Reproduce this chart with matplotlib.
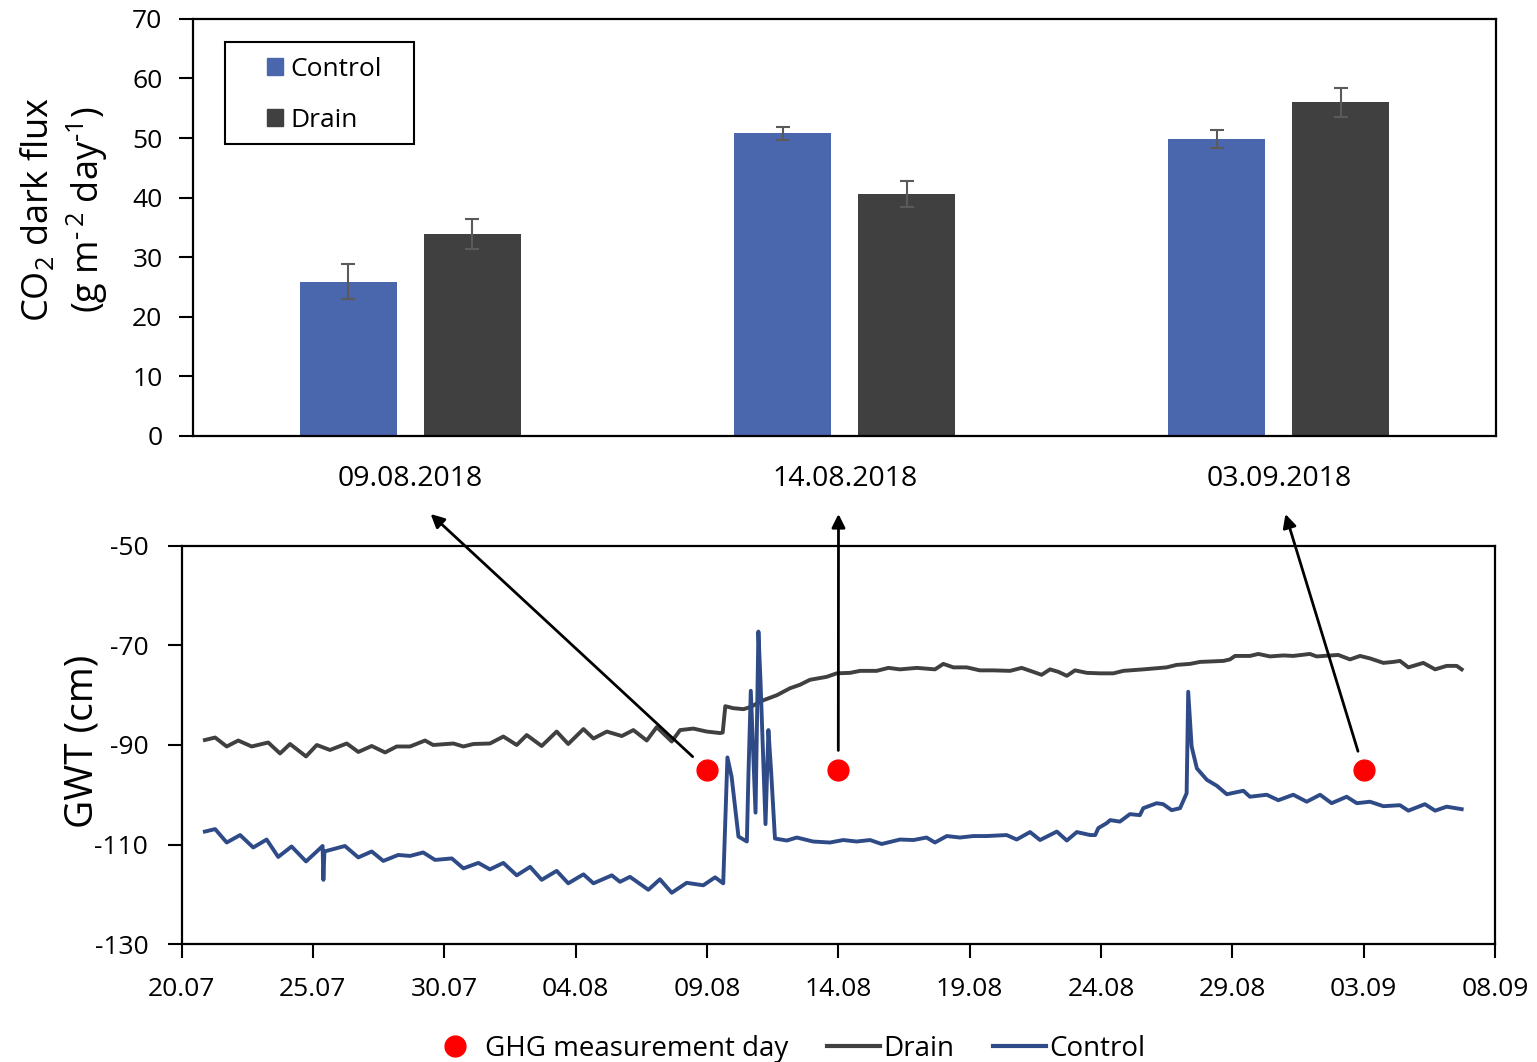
import matplotlib
matplotlib.use('Agg')
import matplotlib.pyplot as plt
import matplotlib.dates as mdates
from matplotlib.lines import Line2D
from matplotlib.patches import Patch, Rectangle, ConnectionPatch
import numpy as np

plt.rcParams['font.family'] = ['Open Sans', 'DejaVu Sans']
plt.rcParams['mathtext.fontset'] = 'custom'
plt.rcParams['mathtext.rm'] = 'Open Sans'
plt.rcParams['axes.unicode_minus'] = False

# ---------------- data ----------------
categories = ['09.08.2018', '14.08.2018', '03.09.2018']
flux_control = [25.9, 50.8, 49.9]
flux_control_err = [2.95, 1.1, 1.5]
flux_drain = [33.9, 40.6, 56.0]
flux_drain_err = [2.5, 2.2, 2.45]

ghg_dates = ['2018-08-09', '2018-08-14', '2018-09-03']
ghg_gwt = [-95, -95, -95]

start_date = '2018-07-20'
# days after 20.07.2018 and groundwater table (cm)
drain_day = [0.89, 1.28, 1.72, 2.16, 2.67, 3.30, 3.75, 4.13, 4.74, 5.15, 5.65, 6.29, 6.73,
             7.24, 7.75, 8.19, 8.70, 9.27, 9.58, 10.35, 10.73, 11.11, 11.74, 12.25, 12.76,
             13.14, 13.71, 14.28, 14.72, 15.30, 15.68, 16.19, 16.76, 17.20, 17.71, 18.09,
             18.66, 18.98, 19.48, 19.99, 20.50, 20.60, 20.70, 21.00, 21.39, 21.64, 22.15,
             22.66, 23.16, 23.54, 23.92, 24.56, 24.94, 25.45, 25.83, 26.46, 26.91, 27.35,
             27.99, 28.68, 29.00, 29.38, 29.89, 30.39, 30.90, 31.54, 31.98, 32.42, 32.74,
             33.06, 33.38, 33.70, 34.01, 34.46, 34.96, 35.47, 35.85, 36.61, 37.50, 37.88,
             38.39, 38.77, 39.66, 39.91, 40.10, 40.67, 40.99, 41.43, 41.94, 42.32, 42.95,
             43.21, 44.03, 44.48, 44.86, 45.24, 45.75, 46.13, 46.38, 46.70, 47.27, 47.72,
             48.16, 48.54, 48.73]
drain_gwt = [-89.0, -88.5, -90.3, -89.1, -90.3, -89.5, -91.7, -89.8, -92.3, -90.0, -91.0, -89.7, -91.4,
             -90.2, -91.5, -90.3, -90.3, -89.1, -90.0, -89.7, -90.3, -89.8, -89.7, -88.3, -90.0,
             -88.0, -90.2, -87.3, -89.8, -86.8, -88.7, -87.3, -88.2, -87.0, -89.1, -86.4,
             -89.3, -87.0, -86.7, -87.3, -87.6, -87.5, -82.2, -82.6, -82.8, -82.4, -81.0,
             -80.0, -78.6, -77.9, -76.9, -76.3, -75.6, -75.5, -75.1, -75.1, -74.5, -74.8,
             -74.5, -74.8, -73.7, -74.4, -74.4, -75.0, -75.0, -75.1, -74.5, -75.3, -75.9,
             -74.8, -75.3, -76.1, -75.0, -75.5, -75.6, -75.6, -75.1, -74.8, -74.4, -73.9,
             -73.7, -73.3, -73.1, -72.8, -72.1, -72.1, -71.7, -72.2, -72.0, -72.1, -71.7,
             -72.2, -71.9, -72.8, -72.1, -72.6, -73.5, -73.3, -73.1, -74.4, -73.5, -74.8,
             -74.1, -74.1, -74.8]

control_day = [0.89, 1.28, 1.72, 2.23, 2.73, 3.24, 3.68, 4.19, 4.74, 5.21, 5.37, 5.40, 5.44,
               6.22, 6.73, 7.24, 7.68, 8.25, 8.70, 9.20, 9.65, 10.29, 10.73, 11.30, 11.74,
               12.25, 12.76, 13.27, 13.71, 14.28, 14.72, 15.30, 15.68, 16.38, 16.69, 17.07,
               17.77, 18.21, 18.66, 19.23, 19.86, 20.31, 20.62, 20.78, 20.94, 21.20, 21.52,
               21.58, 21.67, 21.85, 21.96, 22.04, 22.23, 22.34, 22.44, 22.59, 23.04, 23.42,
               24.04, 24.68, 25.19, 25.70, 26.21, 26.65, 27.35, 27.86, 28.36, 28.68, 29.13,
               29.63, 30.14, 30.65, 31.41, 31.79, 32.30, 32.68, 33.32, 33.70, 34.08, 34.59,
               34.78, 34.90, 35.22, 35.35, 35.72, 36.10, 36.48, 36.61, 37.12, 37.37, 37.69,
               38.01, 38.26, 38.32, 38.45, 38.65, 39.03, 39.41, 39.79, 40.42, 40.67, 41.31,
               41.75, 42.32, 42.83, 43.34, 43.78, 44.35, 44.74, 45.24, 45.75, 46.38, 46.70,
               47.33, 47.72, 48.16, 48.73]
control_gwt = [-107.4, -106.9, -109.6, -108.1, -110.6, -109.0, -112.5, -110.4, -113.4, -111.1, -110.3, -117.1, -111.4,
               -110.3, -112.6, -111.4, -113.3, -112.1, -112.3, -111.6, -113.1, -112.8, -114.8, -113.7, -115.0,
               -113.7, -116.2, -114.5, -117.1, -115.3, -117.8, -116.0, -117.8, -116.2, -117.5, -116.5,
               -119.1, -117.0, -119.7, -117.7, -118.2, -116.6, -117.8, -92.5, -96.4, -108.4, -109.4,
               -96.0, -79.1, -103.6, -67.2, -77.3, -105.9, -87.0, -95.0, -108.8, -109.2, -108.6,
               -109.4, -109.6, -109.1, -109.4, -109.1, -109.9, -109.0, -109.1, -108.6, -109.6, -108.3,
               -108.6, -108.3, -108.3, -108.1, -109.0, -107.5, -109.1, -107.4, -109.2, -107.5, -108.1,
               -108.1, -106.7, -105.7, -105.1, -105.4, -103.9, -104.1, -102.7, -101.7, -101.9, -103.1,
               -102.7, -99.7, -79.3, -90.3, -94.7, -97.0, -98.2, -99.9, -99.2, -100.4, -100.0,
               -101.1, -100.0, -101.4, -100.0, -101.7, -100.4, -101.7, -101.4, -102.3, -102.1, -103.2,
               -101.9, -103.2, -102.4, -102.9]

# ---------------- styling ----------------
c_control_bar = '#4A67AD'
c_drain_bar = '#404040'
c_control_line = '#2F4B87'
c_drain_line = '#404040'
tick_fs = 19
cat_fs = 20.5
legend_fs = 20
label_fs_top = 26
label_fs_bot = 28

fig = plt.figure(figsize=(15.37, 10.62), dpi=100)

# ---------------- top: bar chart ----------------
ax1 = fig.add_axes([0.1256, 0.5895, 0.8478, 0.3927])
x = np.arange(len(categories))
bw = 0.2233
off = 0.1427
ax1.bar(x - off, flux_control, bw, color=c_control_bar, zorder=2)
ax1.bar(x + off, flux_drain, bw, color=c_drain_bar, zorder=2)
ax1.errorbar(x - off, flux_control, yerr=flux_control_err, fmt='none',
             ecolor='#5a5a5a', elinewidth=1.5, capsize=5, capthick=1.5, zorder=3)
ax1.errorbar(x + off, flux_drain, yerr=flux_drain_err, fmt='none',
             ecolor='#5a5a5a', elinewidth=1.5, capsize=5, capthick=1.5, zorder=3)
ax1.set_xlim(-0.5, 2.5)
ax1.set_ylim(0, 70)
ax1.set_yticks(np.arange(0, 71, 10))
ax1.set_xticks(x)
ax1.set_xticklabels(categories)
ax1.tick_params(axis='x', length=0, pad=21, labelsize=cat_fs)
ax1.tick_params(axis='y', length=10, width=1.5, pad=12, labelsize=tick_fs, direction='out')
for s in ax1.spines.values():
    s.set_linewidth(1.6)
ax1.set_ylabel('CO$_\\mathregular{2}$ dark flux\n(g m$^\\mathregular{\u2010\u20092}$ day$^\\mathregular{\u20101}$)',
               fontsize=label_fs_top, linespacing=1.25)
ax1.yaxis.set_label_coords(-0.0635, 0.543)

ax1.add_patch(Rectangle((0.0246, 0.700), 0.145, 0.2446, transform=ax1.transAxes,
                        fill=False, edgecolor='black', linewidth=1.5, zorder=4))
leg1 = ax1.legend(handles=[Patch(color=c_control_bar, label='Control'),
                           Patch(color=c_drain_bar, label='Drain')],
                  loc='center left', bbox_to_anchor=(0.0568, 0.818), frameon=False,
                  fontsize=tick_fs, handlelength=0.6, handleheight=0.6, handletextpad=0.3,
                  labelspacing=1.0, borderpad=0, borderaxespad=0)

# ---------------- bottom: groundwater table ----------------
ax2 = fig.add_axes([0.1181, 0.1111, 0.8546, 0.3748])
base = mdates.date2num(np.datetime64(start_date))
ax2.plot(base + np.array(drain_day), drain_gwt, color=c_drain_line, lw=2.8,
         solid_joinstyle='round', zorder=2)
ax2.plot(base + np.array(control_day), control_gwt, color=c_control_line, lw=2.8,
         solid_joinstyle='round', zorder=3)
ghg_x = mdates.date2num(np.array(ghg_dates, dtype='datetime64[D]'))
ax2.plot(ghg_x, ghg_gwt, linestyle='none', marker='o', color='#FF0000', markersize=15, zorder=4)
ax2.set_xlim(base, base + 50)
ax2.set_ylim(-130, -50)
ax2.set_yticks(np.arange(-130, -49, 20))
ax2.set_xticks(base + np.arange(0, 51, 5))
ax2.xaxis.set_major_formatter(mdates.DateFormatter('%d.%m'))
ax2.tick_params(axis='both', length=10, width=1.5, pad=14, labelsize=tick_fs, direction='out')
for s in ax2.spines.values():
    s.set_linewidth(1.6)
ax2.set_ylabel('GWT (cm)', fontsize=label_fs_bot)
ax2.yaxis.set_label_coords(-0.0613, 0.51)

# ---------------- arrows ----------------
arrow_tip_offset = [0.047, -0.014, 0.015]
arrow_tip_y = -13.1
for i in range(len(categories)):
    con = ConnectionPatch(xyA=(ghg_x[i], ghg_gwt[i]), coordsA=ax2.transData,
                          xyB=(x[i] + arrow_tip_offset[i], arrow_tip_y), coordsB=ax1.transData,
                          arrowstyle='-|>', shrinkA=14, shrinkB=0, lw=2, color='black',
                          mutation_scale=20, zorder=10)
    fig.add_artist(con)

# ---------------- bottom legend ----------------
handles = [Line2D([], [], linestyle='none', marker='o', color='#FF0000', markersize=15),
           Line2D([], [], color=c_drain_line, lw=3),
           Line2D([], [], color=c_control_line, lw=3)]
fig.legend(handles, ['GHG measurement day', 'Drain', 'Control'], loc='center',
           bbox_to_anchor=(0.512, 0.0125), ncol=3, frameon=False, fontsize=legend_fs,
           handlelength=1.9, handletextpad=0.12, columnspacing=1.4)

fig.savefig('out.png', dpi=100)
